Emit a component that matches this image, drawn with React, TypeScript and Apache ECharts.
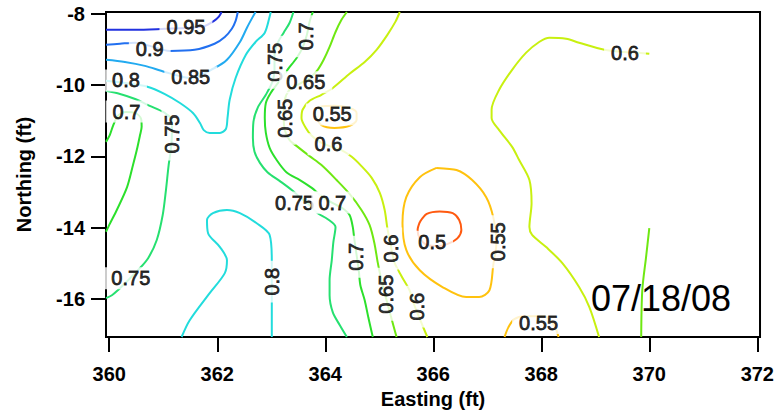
import React, { useEffect, useRef } from "react";
import * as echarts from "echarts";

// Axis ticks
const X_TICKS = [360, 362, 364, 366, 368, 370, 372];
const Y_TICKS = [-16, -14, -12, -10, -8];

// Contour polylines, [Easting, Northing]
const c095 = [[359.94, -8.45], [360.48, -8.45], [361.03, -8.42], [361.49, -8.39], [361.77, -8.34], [361.94, -8.2], [362.03, -8.08], [362.08, -7.95]];
const c090 = [[359.94, -8.87], [360.2, -8.84], [360.48, -8.81], [360.75, -8.9], [361.12, -9.04], [361.58, -9.01], [361.95, -8.84], [362.14, -8.65], [362.27, -8.42], [362.34, -8.2], [362.38, -7.95]];
const c085 = [[359.94, -9.29], [360.29, -9.35], [360.66, -9.46], [361.03, -9.63], [361.51, -9.8], [361.95, -9.52], [362.18, -9.29], [362.42, -8.79], [362.55, -8.39], [362.66, -8.08], [362.71, -7.95]];
const c080a = [[359.94, -9.88], [360.29, -9.94], [360.72, -10.05], [361.03, -10.25], [361.31, -10.5], [361.55, -10.78], [361.68, -11.06], [361.75, -11.26], [361.86, -11.34], [362.05, -11.34], [362.16, -11.23], [362.19, -10.92], [362.23, -10.41], [362.34, -9.8], [362.53, -9.15], [362.71, -8.79], [362.88, -8.53], [362.97, -8.08], [362.99, -7.95]];
const c080b = [[361.34, -17.06], [361.49, -16.59], [361.86, -15.83], [362.14, -15.27], [362.18, -14.91], [362.05, -14.54], [361.83, -14.15], [361.81, -13.78], [361.92, -13.59], [362.18, -13.5], [362.42, -13.59], [362.73, -13.87], [362.97, -14.2], [363.01, -14.91], [363.01, -15.47], [363.01, -16.03], [363.01, -17.06]];
const c075a = [[359.94, -10.16], [360.2, -10.25], [360.48, -10.39], [360.75, -10.58], [361.03, -10.78], [361.16, -10.98], [361.16, -11.4], [361.14, -11.82], [361.1, -12.24], [361.05, -12.94], [360.99, -13.64], [360.88, -14.34], [360.72, -14.85], [360.53, -15.19], [360.35, -15.47], [360.16, -15.75], [360.05, -15.89], [359.94, -15.97]];
const c075b = [[363.41, -7.95], [363.34, -8.25], [363.23, -8.53], [363.12, -8.81], [363.06, -9.15], [363.06, -9.57], [363.02, -9.91], [362.9, -10.27], [362.75, -10.63], [362.67, -11.03], [362.66, -11.48], [362.69, -11.87], [362.79, -12.18], [362.93, -12.44], [363.16, -12.69], [363.38, -12.94], [363.53, -13.14], [363.71, -13.36], [363.86, -13.59], [364.04, -13.75], [364.19, -13.98], [364.15, -14.4], [364.12, -14.91], [364.08, -15.47], [364.08, -15.89], [364.14, -16.37], [364.27, -16.73], [364.4, -17.06]];
const c070a = [[359.94, -11.59], [360.01, -11.4], [360.07, -11.14], [360.16, -10.86], [360.31, -10.75], [360.48, -10.78], [360.59, -10.95], [360.6, -11.17], [360.57, -11.4], [360.51, -11.82], [360.44, -12.24], [360.33, -12.86], [360.14, -13.5], [360.01, -13.89], [359.94, -14.11]];
const c070b = [[363.77, -7.95], [363.71, -8.22], [363.66, -8.59], [363.58, -8.95], [363.47, -9.24], [363.3, -9.57], [363.14, -9.91], [362.99, -10.22], [362.9, -10.5], [362.88, -10.92], [362.9, -11.34], [362.97, -11.76], [363.1, -12.1], [363.28, -12.44], [363.53, -12.66], [363.75, -12.88], [363.93, -13.11], [364.14, -13.31], [364.32, -13.45], [364.45, -13.64], [364.51, -13.98], [364.54, -14.34], [364.58, -14.76], [364.62, -15.19], [364.65, -15.61], [364.73, -16.03], [364.8, -16.53], [364.88, -17.06]];
const c065a = [[364.4, -7.95], [364.3, -8.17], [364.19, -8.51], [364.08, -8.93], [363.97, -9.29], [363.86, -9.57], [363.71, -9.8], [363.53, -9.96], [363.34, -10.13], [363.25, -10.41], [363.23, -10.84], [363.25, -11.26], [363.34, -11.54], [363.49, -11.73], [363.71, -11.99], [363.93, -12.24], [364.21, -12.66], [364.45, -13.05], [364.67, -13.5], [364.82, -13.92], [364.91, -14.43], [364.97, -14.96], [365.04, -15.47], [365.12, -15.94], [365.21, -16.45], [365.32, -17.06]];
const c065b = [[370.0, -14.01], [369.94, -14.82], [369.87, -15.75], [369.85, -17.06]];
const c060a = [[365.38, -7.95], [365.3, -8.22], [365.15, -8.59], [364.95, -9.01], [364.73, -9.35], [364.45, -9.68], [364.14, -10.08], [363.93, -10.27], [363.71, -10.44], [363.58, -10.69], [363.56, -10.92], [363.64, -11.2], [363.75, -11.42], [363.9, -11.59], [364.08, -11.71], [364.3, -11.82], [364.49, -12.01], [364.67, -12.27], [364.86, -12.6], [365.01, -13.02], [365.1, -13.5], [365.15, -14.01], [365.21, -14.48], [365.28, -14.96], [365.41, -15.35], [365.56, -15.75], [365.65, -16.17], [365.76, -16.59], [365.89, -17.06]];
const c060b = [[370.0, -9.12], [369.81, -9.09], [369.53, -9.07], [369.17, -9.01], [368.7, -8.81], [368.46, -8.7], [368.15, -8.67], [367.96, -8.79], [367.72, -9.09], [367.46, -9.57], [367.22, -10.13], [367.08, -10.69], [367.08, -10.92], [367.22, -11.26], [367.46, -11.73], [367.59, -12.1], [367.78, -12.66], [367.82, -13.31], [367.78, -13.98], [367.83, -14.2], [368.09, -14.54], [368.39, -14.99], [368.7, -15.66], [368.89, -16.22], [369.07, -17.06]];
const c055a = [[363.82, -10.86], [363.93, -11.12], [364.17, -11.2], [364.45, -11.14], [364.58, -10.98], [364.58, -10.78], [364.45, -10.64], [364.17, -10.58], [363.9, -10.61], [363.79, -10.72], [363.82, -10.86]];
const c055b = [[366.06, -12.32], [365.75, -12.58], [365.5, -13.14], [365.43, -13.87], [365.5, -14.62], [365.75, -15.19], [366.17, -15.66], [366.61, -15.94], [366.85, -15.94], [367.04, -15.75], [367.11, -15.05], [367.17, -14.4], [367.11, -13.7], [366.98, -13.14], [366.72, -12.66], [366.43, -12.38], [366.06, -12.32]];
const c055c = [[367.32, -17.06], [367.39, -16.79], [367.5, -16.56], [367.69, -16.48], [368.06, -16.48], [368.2, -16.65], [368.28, -16.87], [368.32, -17.06]];
const c050 = [[365.75, -13.84], [365.88, -13.61], [366.12, -13.54], [366.36, -13.59], [366.48, -13.78], [366.52, -14.06], [366.45, -14.29], [366.3, -14.43], [366.12, -14.51], [365.89, -14.48], [365.75, -14.29], [365.71, -14.06], [365.75, -13.84]];

const CONTOURS = [
  { level: "0.95", pts: c095 },
  { level: "0.9", pts: c090 },
  { level: "0.85", pts: c085 },
  { level: "0.8", pts: c080a },
  { level: "0.8", pts: c080b },
  { level: "0.75", pts: c075a },
  { level: "0.75", pts: c075b },
  { level: "0.7", pts: c070a },
  { level: "0.7", pts: c070b },
  { level: "0.65", pts: c065a },
  { level: "0.65", pts: c065b },
  { level: "0.6", pts: c060a },
  { level: "0.6", pts: c060b },
  { level: "0.55", pts: c055a },
  { level: "0.55", pts: c055b },
  { level: "0.55", pts: c055c },
  { level: "0.5", pts: c050 },
];

const LEVEL_COLORS: Record<string, string> = {
  "0.5": "#ff5a10",
  "0.55": "#ffc20e",
  "0.6": "#c8f010",
  "0.65": "#6ee812",
  "0.7": "#2ce02c",
  "0.75": "#26e070",
  "0.8": "#22dcdc",
  "0.85": "#22aaf0",
  "0.9": "#2270f0",
  "0.95": "#2232e0",
};

// Contour labels: [Easting, Northing, text, rotation]
const LABELS: [number, number, string, number][] = [
  [361.42, -8.38, "0.95", 0],
  [360.75, -8.98, "0.9", 0],
  [361.51, -9.78, "0.85", 0],
  [360.31, -9.87, "0.8", 0],
  [360.32, -10.74, "0.7", 0],
  [361.17, -11.37, "0.75", 90],
  [360.4, -15.41, "0.75", 0],
  [363.02, -15.51, "0.8", 90],
  [363.07, -9.36, "0.75", 90],
  [363.65, -8.63, "0.7", 90],
  [363.64, -9.92, "0.65", 0],
  [363.25, -10.93, "0.65", 90],
  [364.13, -10.82, "0.55", 0],
  [364.06, -11.66, "0.6", 0],
  [363.43, -13.29, "0.75", 0],
  [364.13, -13.29, "0.7", 0],
  [364.57, -14.81, "0.7", 90],
  [365.22, -14.58, "0.6", 90],
  [365.13, -15.86, "0.65", 90],
  [365.7, -16.21, "0.6", 90],
  [365.98, -14.39, "0.5", 0],
  [367.2, -14.39, "0.55", 90],
  [369.55, -9.09, "0.6", 0],
  [367.95, -16.67, "0.55", 0],
];

const DATE_TEXT = "07/18/08";

export default function App() {
  const ref = useRef<HTMLDivElement>(null);
  useEffect(() => {
    if (!ref.current) return;
    const chart = echarts.init(ref.current, null, { renderer: "svg" });
    const font = "Liberation Sans";
    const lineSeries = CONTOURS.map((c) => ({
      type: "line",
      data: c.pts,
      showSymbol: false,
      symbol: "none",
      smooth: 0.3,
      silent: true,
      z: 2,
      lineStyle: { color: LEVEL_COLORS[c.level], width: 2 },
    }));
    const labelSeries = {
      type: "scatter",
      z: 5,
      silent: true,
      symbolSize: 1,
      itemStyle: { color: "rgba(0,0,0,0)" },
      data: LABELS.map(([x, y, t, r]) => ({ value: [x, y], name: t, label: { rotate: r } })),
      label: {
        show: true,
        position: "inside",
        formatter: "{b}",
        fontFamily: font,
        fontSize: 20,
        color: "#000",
        textBorderColor: "#000",
        textBorderWidth: 0.8,
        backgroundColor: "#fff",
        padding: [1, 7],
      },
    };
    chart.setOption({
      animation: false,
      textStyle: { fontFamily: font },
      grid: {
        left: 106,
        right: 16,
        top: 12,
        bottom: 80,
        show: true,
        borderColor: "#000",
        borderWidth: 2,
        backgroundColor: "transparent",
      },
      xAxis: {
        type: "value",
        min: 359.94,
        max: 372.05,
        name: "Easting (ft)",
        nameLocation: "middle",
        nameGap: 52,
        nameTextStyle: { fontFamily: font, fontSize: 20, fontWeight: "bold", color: "#000" },
        axisLine: { show: true, lineStyle: { color: "#000", width: 2 } },
        axisTick: { show: true, length: 15, lineStyle: { color: "#000", width: 2 }, customValues: X_TICKS },
        axisLabel: { customValues: X_TICKS, fontFamily: font, fontSize: 20, fontWeight: "bold", color: "#000", margin: 27 },
        splitLine: { show: false },
      },
      yAxis: {
        type: "value",
        min: -17.06,
        max: -7.95,
        name: "Northing (ft)",
        nameLocation: "middle",
        nameGap: 72,
        nameTextStyle: { fontFamily: font, fontSize: 20, fontWeight: "bold", color: "#000" },
        axisLine: { show: true, lineStyle: { color: "#000", width: 2 } },
        axisTick: { show: true, length: 15, lineStyle: { color: "#000", width: 2 }, customValues: Y_TICKS },
        axisLabel: { customValues: Y_TICKS, fontFamily: font, fontSize: 20, fontWeight: "bold", color: "#000", margin: 21 },
        splitLine: { show: false },
      },
      graphic: [
        {
          type: "text",
          x: 591,
          y: 298.5,
          z: 10,
          style: {
            text: DATE_TEXT,
            font: "36px 'Liberation Sans'",
            fill: "#000",
            align: "left",
            verticalAlign: "middle",
          },
        },
      ],
      series: [...lineSeries, labelSeries],
    });
    return () => chart.dispose();
  }, []);
  return (
    <div
      ref={ref}
      style={{ position: "fixed", left: 0, top: 0, width: 777, height: 417, background: "#fff" }}
    />
  );
}
